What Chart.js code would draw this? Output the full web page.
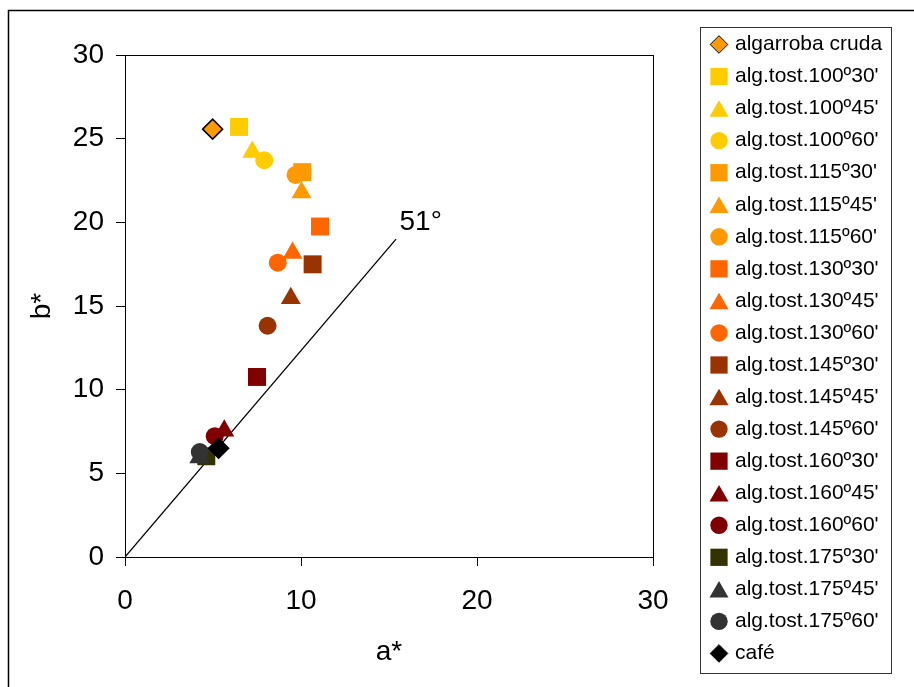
<!DOCTYPE html>
<html>
<head>
<meta charset="utf-8">
<script src="https://cdn.jsdelivr.net/npm/chart.js@4.4.1/dist/chart.umd.min.js"></script>
<style>
  html, body { margin: 0; padding: 0; background: #fff; }
  #wrap { width: 914px; height: 687px; }
</style>
</head>
<body>
<div id="wrap"><canvas id="chart" width="914" height="687"></canvas></div>
<script>
// series
const seriesNames = [
  "algarroba cruda",
  "alg.tost.100º30'", "alg.tost.100º45'", "alg.tost.100º60'",
  "alg.tost.115º30'", "alg.tost.115º45'", "alg.tost.115º60'",
  "alg.tost.130º30'", "alg.tost.130º45'", "alg.tost.130º60'",
  "alg.tost.145º30'", "alg.tost.145º45'", "alg.tost.145º60'",
  "alg.tost.160º30'", "alg.tost.160º45'", "alg.tost.160º60'",
  "alg.tost.175º30'", "alg.tost.175º45'", "alg.tost.175º60'",
  "café"
];
const valuesA = [4.98, 6.48, 7.23, 7.91, 10.07, 10.03, 9.69, 11.08, 9.52, 8.68,
                 10.66, 9.42, 8.10, 7.50, 5.64, 5.10, 4.62, 4.22, 4.25, 5.32];
const valuesB = [25.57, 25.70, 24.20, 23.71, 23.00, 21.79, 22.83, 19.75, 18.16, 17.59,
                 17.49, 15.47, 13.82, 10.76, 7.54, 7.22, 6.02, 5.94, 6.27, 6.50];
const seriesColors = [
  "#FF9900",
  "#FFCC00", "#FFCC00", "#FFCC00",
  "#FF9900", "#FF9900", "#FF9900",
  "#FF6600", "#FF6600", "#FF6600",
  "#993300", "#993300", "#993300",
  "#800000", "#800000", "#800000",
  "#333300", "#333333", "#333333",
  "#000000"
];
const seriesShapes = [
  "rectRot",
  "rect", "triangle", "circle",
  "rect", "triangle", "circle",
  "rect", "triangle", "circle",
  "rect", "triangle", "circle",
  "rect", "triangle", "circle",
  "rect", "triangle", "circle",
  "rectRot"
];

// 51° reference line and its label
const refLineA = [0, 15.4];
const refLineB = [0, 19.0];
const angleLabel = { text: "51°", a: 16.8, b: 20.0 };

const xTicks = [0, 10, 20, 30];
const yTicks = [0, 5, 10, 15, 20, 25, 30];

const axisFont = '"Liberation Sans Narrow", "Arial Narrow", "Liberation Sans", Arial, sans-serif';
const plain = '"Liberation Sans", Arial, sans-serif';

// marker sizes (plot / legend) per shape
const plotRadius = { circle: 9, rect: 12.7, triangle: 11.5, rectRot: 10 };
const legendRadius = { circle: 8.7, rect: 12.2, triangle: 11, rectRot: 8.8 };

const datasets = seriesNames.map((name, i) => {
  const diamond = seriesShapes[i] === "rectRot";
  return {
    label: name,
    data: [{ x: valuesA[i], y: valuesB[i] }],
    pointStyle: seriesShapes[i],
    pointRadius: plotRadius[seriesShapes[i]],
    pointHoverRadius: plotRadius[seriesShapes[i]],
    backgroundColor: seriesColors[i],
    borderColor: diamond ? "#000" : seriesColors[i],
    borderWidth: diamond ? 1.5 : 0,
    order: -i
  };
});

datasets.push({
  type: "line",
  label: "51",
  data: refLineA.map((a, i) => ({ x: a, y: refLineB[i] })),
  borderColor: "#000",
  borderWidth: 1.3,
  pointRadius: 0,
  fill: false,
  order: 1
});

const framePlugin = {
  id: "frame",
  beforeDraw(chart) {
    const ctx = chart.ctx;
    ctx.save();
    ctx.fillStyle = "#fff";
    ctx.fillRect(0, 0, chart.width, chart.height);
    ctx.strokeStyle = "#000";
    ctx.lineWidth = 1.5;
    ctx.strokeRect(8.5, 10.5, 1000, 1000);
    ctx.restore();
  },
  afterDraw(chart) {
    const ctx = chart.ctx;
    const { left, top, right, bottom } = chart.chartArea;
    const xs = chart.scales.x, ys = chart.scales.y;
    ctx.save();
    // plot box
    ctx.strokeStyle = "#000";
    ctx.lineWidth = 1;
    ctx.strokeRect(Math.round(left) + 0.5, Math.round(top) + 0.5,
                   Math.round(right - left), Math.round(bottom - top));

    // angle label
    ctx.fillStyle = "#000";
    ctx.font = "28px " + axisFont;
    ctx.textAlign = "center";
    ctx.textBaseline = "middle";
    ctx.fillText(angleLabel.text, xs.getPixelForValue(angleLabel.a), ys.getPixelForValue(angleLabel.b));

    // legend
    const bx = 700, by = 27, bw = 191, bh = 646;
    ctx.strokeStyle = "#333";
    ctx.lineWidth = 1;
    ctx.strokeRect(bx + 0.5, by + 0.5, bw, bh);
    ctx.font = "21px " + plain;
    ctx.textAlign = "left";
    seriesNames.forEach((name, i) => {
      const y = 44.5 + i * 32.05;
      const shape = seriesShapes[i];
      const r = legendRadius[shape];
      const diamond = shape === "rectRot";
      ctx.fillStyle = seriesColors[i];
      ctx.strokeStyle = diamond ? "#000" : seriesColors[i];
      Chart.helpers.drawPoint(ctx, {
        pointStyle: shape, rotation: 0, radius: r, borderWidth: diamond ? 1.5 : 0
      }, 719, shape === "triangle" ? y + r / 4 : y);
      ctx.fillStyle = "#000";
      ctx.fillText(name, 735, y);
    });
    ctx.restore();
  }
};

new Chart(document.getElementById("chart"), {
  type: "scatter",
  data: { datasets },
  options: {
    responsive: false,
    devicePixelRatio: 1,
    animation: false,
    layout: { padding: { left: 0, top: 55, right: 261, bottom: 0 } },
    plugins: {
      legend: { display: false },
      tooltip: { enabled: false }
    },
    scales: {
      x: {
        type: "linear",
        min: xTicks[0],
        max: xTicks[xTicks.length - 1],
        afterBuildTicks: s => { s.ticks = xTicks.map(v => ({ value: v })); },
        afterFit: s => { s.height = 130; },
        ticks: { color: "#000", padding: 18, font: { family: axisFont, size: 28 } },
        grid: { drawOnChartArea: false, drawTicks: true, tickLength: 9, color: "#000" },
        border: { display: true, color: "#000", width: 1 },
        title: {
          display: true, text: "a*", color: "#000",
          font: { family: axisFont, size: 28 },
          padding: { top: 0, bottom: 18 }
        }
      },
      y: {
        type: "linear",
        min: yTicks[0],
        max: yTicks[yTicks.length - 1],
        afterBuildTicks: s => { s.ticks = yTicks.map(v => ({ value: v })); },
        afterFit: s => { s.width = 125; },
        ticks: { color: "#000", padding: 12, font: { family: axisFont, size: 28 } },
        grid: { drawOnChartArea: false, drawTicks: true, tickLength: 9, color: "#000" },
        border: { display: true, color: "#000", width: 1 },
        title: {
          display: true, text: "b*", color: "#000",
          font: { family: axisFont, size: 28 },
          padding: { top: 25, bottom: 0 }
        }
      }
    }
  },
  plugins: [framePlugin]
});
</script>
</body>
</html>
